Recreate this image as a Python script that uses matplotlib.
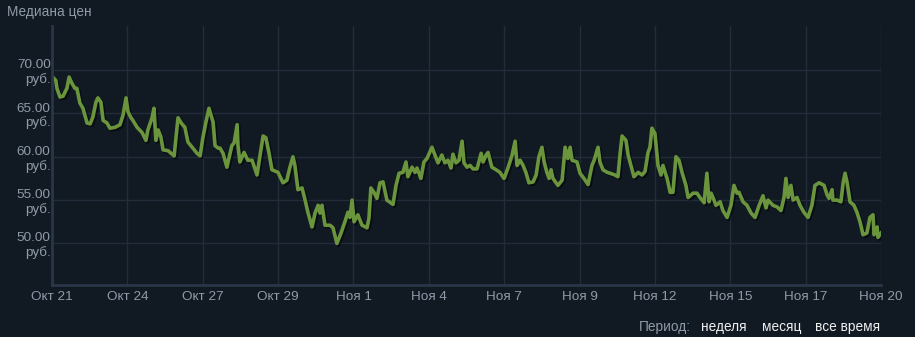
import matplotlib
matplotlib.use("Agg")
import matplotlib.pyplot as plt
import matplotlib.patheffects as pe

# Median price, days since Oct 21
days = [0.0, 0.14, 0.18, 0.29, 0.40, 0.54, 0.62, 0.72, 0.83, 0.90,
        1.01, 1.12, 1.27, 1.38, 1.48, 1.59, 1.66, 1.77, 1.85, 1.99,
        2.10, 2.28, 2.46, 2.57, 2.68, 2.75, 2.86, 2.93, 3.08, 3.26,
        3.40, 3.47, 3.62, 3.69, 3.76, 3.84, 3.94, 4.02, 4.20, 4.42,
        4.56, 4.70, 4.81, 4.92, 5.10, 5.25, 5.36, 5.46, 5.57, 5.68,
        5.83, 5.90, 6.01, 6.08, 6.19, 6.33, 6.51, 6.59, 6.70, 6.73,
        6.80, 6.95, 7.09, 7.24, 7.42, 7.53, 7.64, 7.74, 7.85, 7.96,
        8.18, 8.36, 8.50, 8.61, 8.72, 8.79, 8.90, 9.05, 9.16, 9.26,
        9.41, 9.52, 9.63, 9.70, 9.77, 9.88, 10.06, 10.17, 10.31, 10.46,
        10.60, 10.71, 10.78, 10.86, 10.93, 11.07, 11.22, 11.40, 11.47, 11.54,
        11.65, 11.76, 11.87, 11.98, 12.12, 12.34, 12.45, 12.56, 12.70, 12.81,
        12.88, 13.03, 13.14, 13.21, 13.35, 13.46, 13.57, 13.75, 13.86, 13.97,
        14.11, 14.22, 14.33, 14.44, 14.51, 14.62, 14.73, 14.84, 14.91, 15.02,
        15.13, 15.24, 15.38, 15.53, 15.60, 15.71, 15.78, 15.92, 16.07, 16.21,
        16.36, 16.50, 16.65, 16.76, 16.83, 16.94, 17.05, 17.15, 17.26, 17.41,
        17.52, 17.62, 17.73, 17.81, 17.91, 17.99, 18.06, 18.13, 18.31, 18.46,
        18.57, 18.67, 18.75, 18.82, 19.00, 19.11, 19.25, 19.40, 19.54, 19.62,
        19.76, 19.83, 19.94, 20.09, 20.19, 20.37, 20.48, 20.56, 20.63, 20.77,
        20.85, 20.95, 21.06, 21.21, 21.35, 21.46, 21.57, 21.64, 21.71, 21.82,
        21.93, 22.04, 22.11, 22.26, 22.37, 22.47, 22.58, 22.69, 22.80, 22.94,
        23.02, 23.20, 23.34, 23.45, 23.60, 23.70, 23.78, 23.85, 23.92, 24.03,
        24.18, 24.28, 24.43, 24.57, 24.68, 24.79, 24.86, 25.01, 25.15, 25.30,
        25.44, 25.59, 25.73, 25.84, 25.91, 26.09, 26.24, 26.38, 26.49, 26.56,
        26.64, 26.74, 26.82, 26.96, 27.07, 27.21, 27.36, 27.50, 27.61, 27.76,
        27.94, 28.05, 28.12, 28.23, 28.26, 28.41, 28.55, 28.63, 28.70, 28.77,
        28.88, 29.02, 29.13, 29.24, 29.35, 29.49, 29.60, 29.71, 29.75, 29.86,
        29.89, 30.0]
prices = [69.3, 68.8, 67.9, 66.9, 67.0, 67.9, 69.2, 68.5, 67.9, 67.9,
          66.2, 65.6, 63.9, 63.8, 64.6, 66.3, 66.8, 66.3, 64.2, 63.9,
          63.3, 63.4, 63.7, 64.8, 66.8, 65.2, 64.5, 64.2, 63.4, 62.8,
          61.9, 63.1, 64.5, 65.6, 61.9, 63.1, 62.3, 60.8, 60.7, 60.1,
          64.5, 63.8, 63.4, 61.7, 61.0, 60.4, 60.1, 62.2, 64.0, 65.6,
          64.0, 61.3, 61.0, 61.0, 60.4, 58.8, 61.3, 61.6, 63.7, 61.3,
          59.4, 60.5, 59.6, 59.6, 57.9, 60.2, 62.4, 62.2, 60.5, 58.5,
          58.2, 57.0, 57.3, 58.8, 60.0, 59.0, 56.2, 56.4, 55.0, 53.6,
          51.9, 53.5, 54.4, 53.5, 54.4, 52.1, 52.1, 51.8, 50.0, 51.2,
          52.5, 53.6, 53.0, 55.0, 52.5, 53.3, 52.1, 51.8, 52.9, 56.4,
          55.9, 55.2, 57.0, 57.1, 55.0, 54.5, 56.7, 58.1, 58.2, 59.4,
          57.7, 58.8, 58.2, 58.7, 57.5, 59.4, 59.8, 61.1, 60.2, 59.3,
          60.2, 59.3, 59.6, 58.7, 60.3, 59.3, 59.6, 61.8, 59.3, 58.8,
          59.0, 58.6, 58.6, 60.4, 59.4, 60.2, 60.5, 58.8, 58.5, 58.2,
          57.5, 58.7, 60.2, 61.8, 59.0, 59.6, 59.0, 58.2, 57.0, 57.1,
          57.9, 60.0, 61.1, 59.4, 58.2, 57.5, 58.5, 57.5, 56.7, 57.3,
          61.1, 59.8, 61.1, 59.6, 59.4, 58.1, 57.5, 56.8, 59.0, 59.6,
          61.1, 59.4, 58.5, 58.2, 58.1, 57.9, 57.7, 60.4, 62.4, 61.9,
          60.2, 59.0, 57.7, 58.2, 57.9, 58.3, 60.5, 61.1, 63.3, 62.7,
          59.0, 57.9, 59.0, 57.5, 55.9, 55.9, 60.0, 59.6, 58.2, 56.7,
          55.3, 55.8, 55.8, 55.3, 54.7, 58.1, 54.8, 55.8, 55.3, 54.4,
          54.8, 53.8, 53.0, 54.4, 56.7, 55.8, 55.9, 54.8, 54.4, 53.5,
          53.0, 54.4, 55.5, 54.1, 55.0, 54.4, 54.2, 53.8, 55.3, 57.5,
          55.3, 56.7, 55.0, 55.3, 54.4, 53.6, 53.0, 54.4, 56.7, 57.0,
          56.7, 55.6, 55.2, 56.2, 55.0, 55.0, 54.8, 57.0, 58.1, 57.1,
          54.8, 54.4, 53.6, 52.5, 51.0, 51.2, 53.0, 53.3, 51.0, 51.9,
          50.7, 51.2]

x_labels = ["Окт 21", "Окт 24", "Окт 27", "Окт 29", "Ноя 1", "Ноя 4",
            "Ноя 7", "Ноя 9", "Ноя 12", "Ноя 15", "Ноя 17", "Ноя 20"]
y_ticks = [50, 55, 60, 65, 70]

bg = "#111923"
grid_c = "#222d3a"
text_c = "#8f9ba8"

plt.rcParams["font.family"] = ["Liberation Sans", "DejaVu Sans"]

fig = plt.figure(figsize=(9.15, 3.37), dpi=100, facecolor=bg)
ax = fig.add_axes([52 / 915, 1 - 285 / 337, 829 / 915, 259 / 337])
ax.set_facecolor(bg)

ax.set_xlim(0, 30)
ax.set_ylim(45.2, 75.1)

x_ticks = [i * 30 / 11 for i in range(len(x_labels))]
ax.set_xticks(x_ticks)
ax.set_xticklabels(x_labels)
ax.set_yticks(y_ticks)
ax.set_yticklabels([f"{v:.2f}\nруб." for v in y_ticks], linespacing=1.2)
ax.tick_params(length=0, colors=text_c, labelsize=9.7)
ax.tick_params(axis="y", pad=1)
ax.tick_params(axis="x", pad=4)
for lbl in ax.get_yticklabels():
    lbl.set_horizontalalignment("right")
    lbl.set_multialignment("right")

ax.grid(True, color=grid_c, linewidth=1)
ax.set_axisbelow(True)
for side in ["top", "right"]:
    ax.spines[side].set_visible(False)
for side in ["left", "bottom"]:
    ax.spines[side].set_color("#283647")
    ax.spines[side].set_linewidth(2)

ax.plot(days, prices, color="#6a953d", linewidth=2.6, solid_joinstyle="round",
        path_effects=[pe.SimpleLineShadow(offset=(1.2, -1.2), shadow_color="black", alpha=0.5),
                      pe.Normal()])

fig.text(7 / 915, 1 - 12 / 337, "Медиана цен", color=text_c, fontsize=9.8,
         va="center", ha="left")

# period selector at the bottom
fig.text(691 / 915, 1 - 327 / 337, "Период:", color=text_c, fontsize=9.8,
         va="center", ha="right")
fig.text(701 / 915, 1 - 327 / 337, "неделя", color="#f0f0f0", fontsize=9.8,
         va="center", ha="left")
fig.text(762 / 915, 1 - 327 / 337, "месяц", color="#f0f0f0", fontsize=9.8,
         va="center", ha="left")
fig.text(815 / 915, 1 - 327 / 337, "все время", color="#f0f0f0", fontsize=9.8,
         va="center", ha="left")

fig.savefig("out.png", dpi=100, facecolor=bg)
